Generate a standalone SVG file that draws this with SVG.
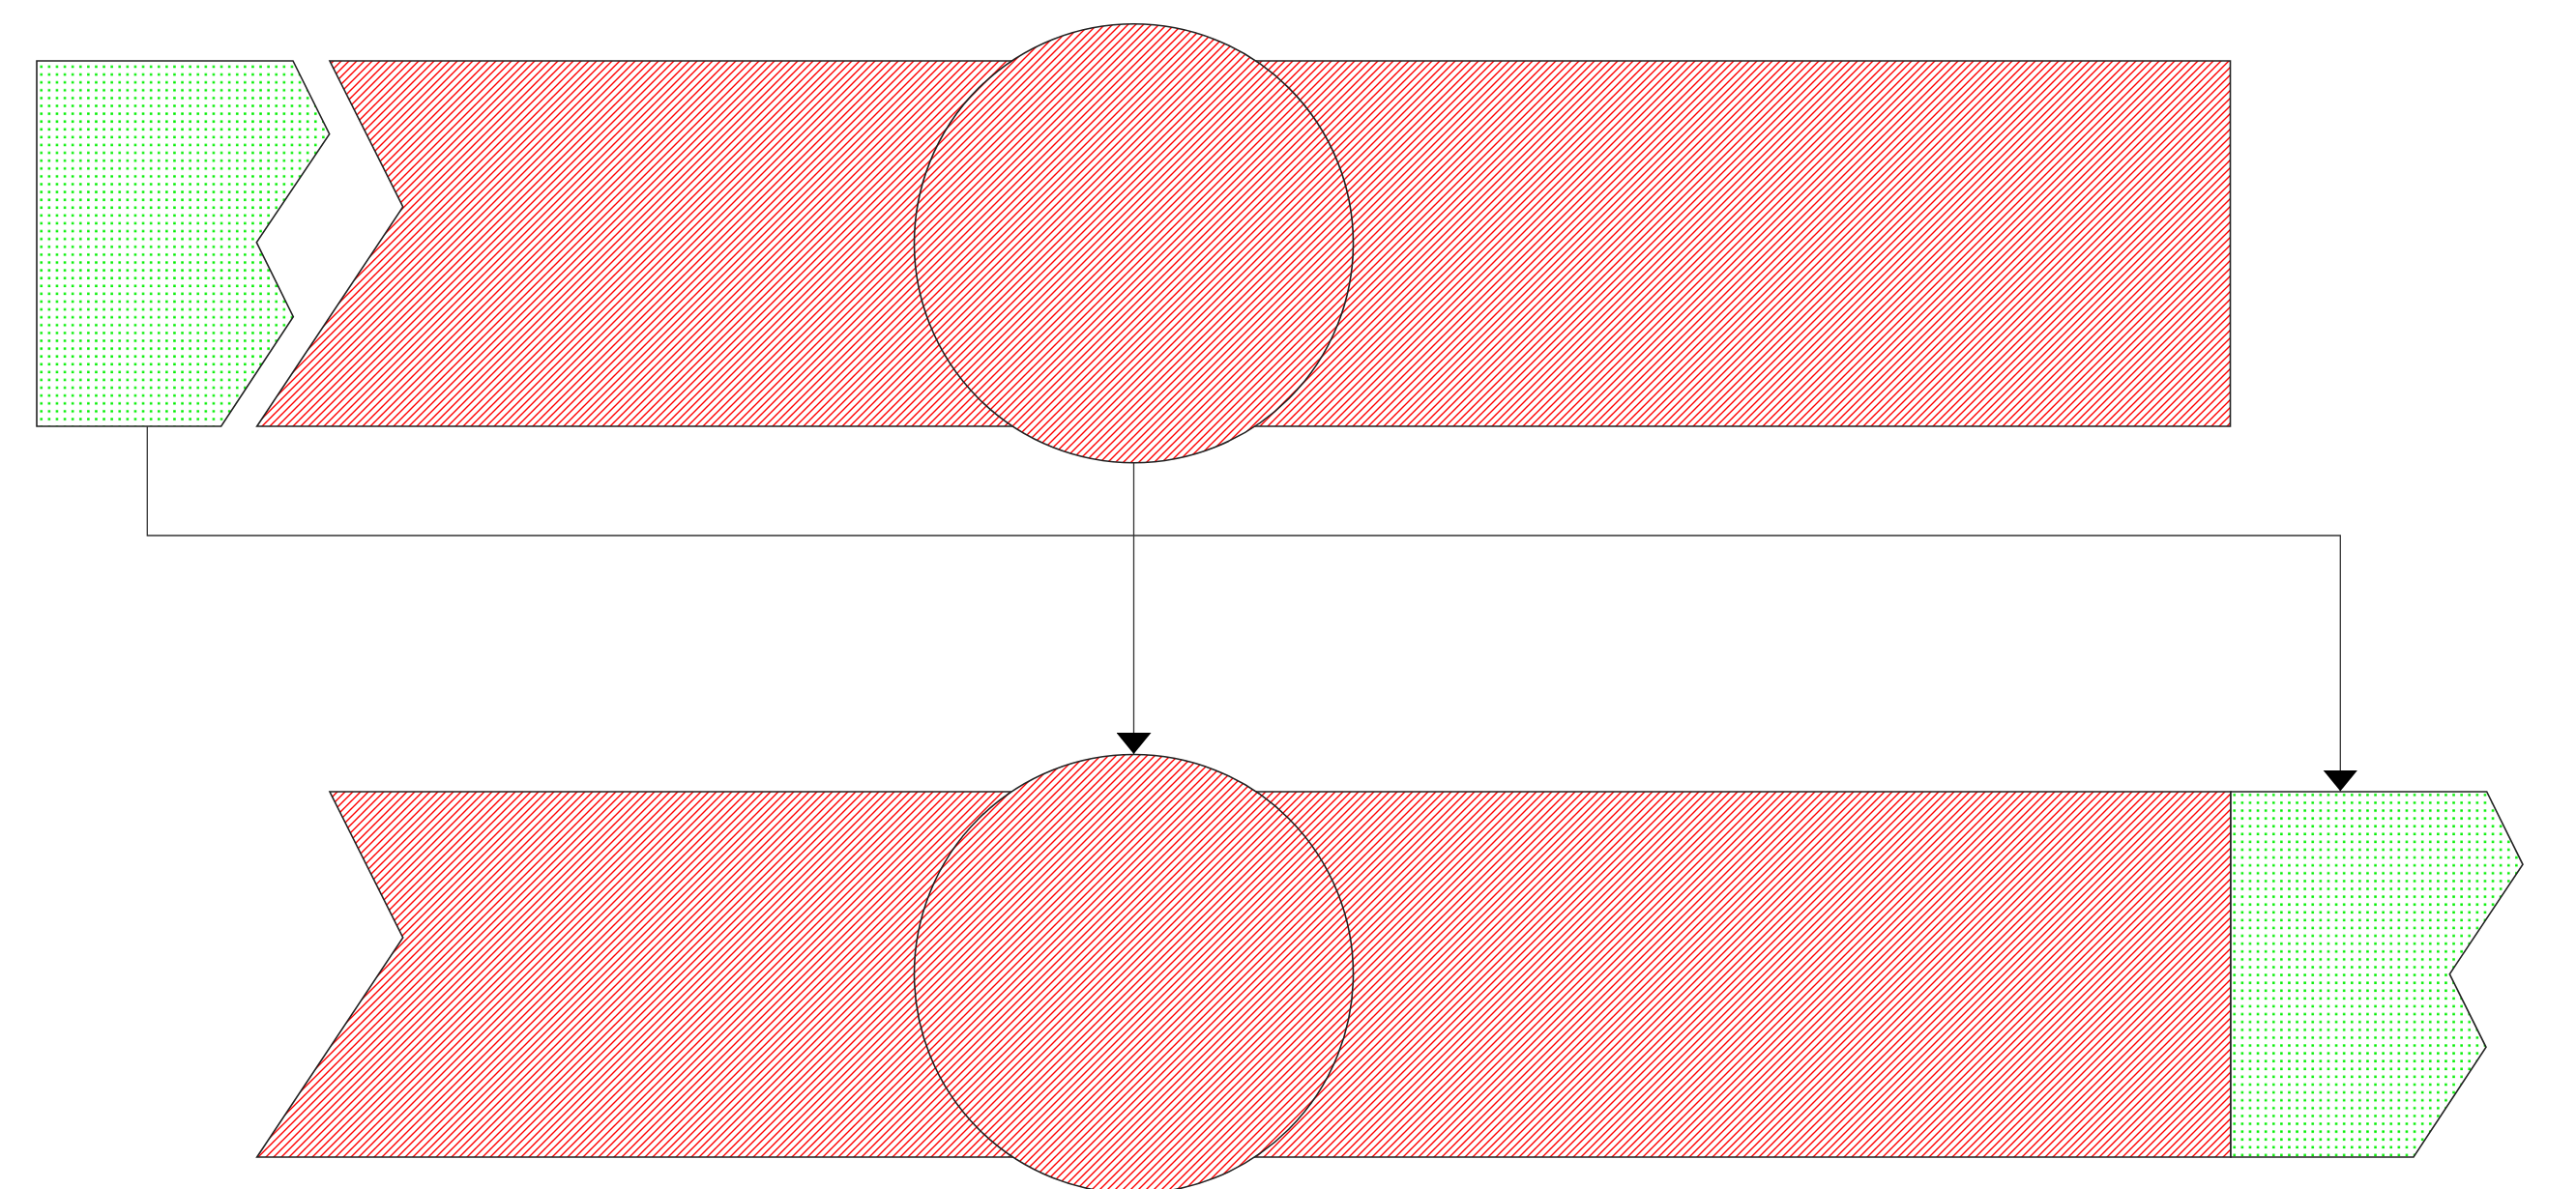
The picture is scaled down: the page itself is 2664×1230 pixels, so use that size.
<svg xmlns="http://www.w3.org/2000/svg" width="2664" height="1230" viewBox="0 0 2664 1230">
<style>
.shape{stroke:#222;stroke-width:1.6;stroke-linejoin:miter}
.hatch{fill:url(#hatch)}
.dots{fill:url(#dots)}
.conn{fill:none;stroke:#333;stroke-width:1.3}
</style>
<defs>
<pattern id="hatch" patternUnits="userSpaceOnUse" width="8" height="8">
<rect width="8" height="8" fill="#fff"/>
<path d="M-2,2 L2,-2 M0,8 L8,0 M6,10 L10,6" stroke="#ff0000" stroke-width="1.4"/>
</pattern>
<pattern id="dots" patternUnits="userSpaceOnUse" x="0" y="0" width="8.1" height="8.1">
<rect width="8.1" height="8.1" fill="#fff"/>
<rect x="1" y="3" width="2.5" height="2.5" fill="#00f000"/>
</pattern>
<marker id="arrow" markerUnits="userSpaceOnUse" markerWidth="22" markerHeight="36" refX="22" refY="18" orient="auto" viewBox="0 0 22 36">
<path d="M0,0 L22,18 L0,36 Z" fill="#000"/>
</marker>
</defs>
<g id="top-left-block">
<polygon class="shape dots" points="38,63 303,63 340.7,138.7 265.3,250.7 303.3,327.7 228.7,441 38,441"/>
</g>
<g id="top-band">
<polygon class="shape hatch" points="341,63 2306.5,63 2306.5,441 265.7,441 416.7,214"/>
</g>
<g id="top-circle">
<circle class="shape hatch" cx="1172.5" cy="251.7" r="227"/>
</g>
<g id="bottom-band">
<polygon class="shape hatch" points="341,819 2307,819 2307,1197 265.7,1197 416.7,970"/>
</g>
<g id="bottom-right-block">
<polygon class="shape dots" points="2307,819 2571.7,819 2609,894.3 2533.3,1007.7 2571,1083.3 2496,1197 2307,1197"/>
</g>
<g id="bottom-circle">
<circle class="shape hatch" cx="1172.5" cy="1007.5" r="227"/>
</g>
<g id="connectors">
<path class="conn" d="M1172.5,478.7 L1172.5,780" marker-end="url(#arrow)"/>
<path class="conn" d="M152.3,441 L152.3,554 L2420.3,554 L2420.3,818.5" marker-end="url(#arrow)"/>
</g>
</svg>
